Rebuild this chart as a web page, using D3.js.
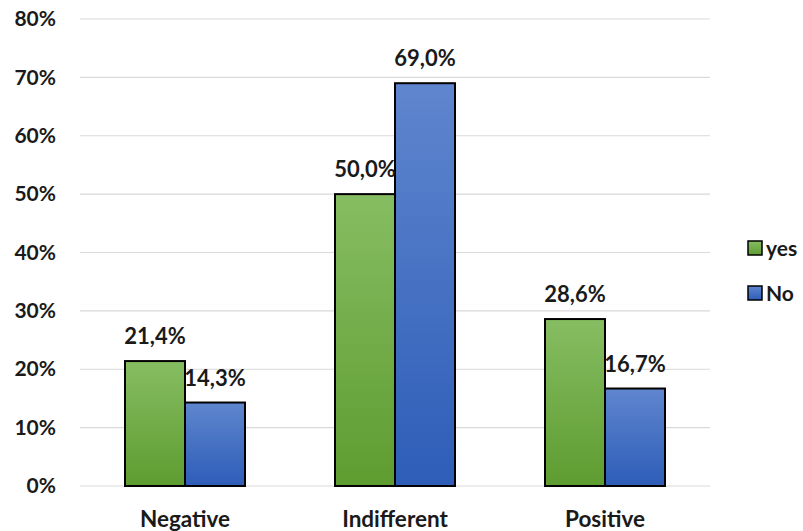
<!DOCTYPE html>
<html>
<head>
<meta charset="utf-8">
<script src="https://cdn.jsdelivr.net/npm/d3@7"></script>
<style>
  html, body { margin: 0; padding: 0; background: #fff; }
  svg { display: block; font-family: Lato, "Open Sans", sans-serif; font-weight: 700; }
</style>
</head>
<body>
<svg id="chart" width="803" height="531"></svg>
<script>
// Share of responses per attitude, split by group
const categories = ["Negative", "Indifferent", "Positive"];
const seriesNames = ["yes", "No"];
const yesValues = [21.4, 50.0, 28.6];
const noValues = [14.3, 69.0, 16.7];
const yTicks = [0, 10, 20, 30, 40, 50, 60, 70, 80];

const svg = d3.select("#chart");
const margin = { left: 80, right: 93, top: 19, bottom: 45 };
const W = 803, H = 531;
const FS = 21;

const x = d3.scaleBand().domain(categories).range([margin.left, W - margin.right]).paddingInner(0).paddingOuter(0);
const y = d3.scaleLinear().domain([0, 80]).range([H - margin.bottom, margin.top]);

const defs = svg.append("defs");
const grads = {
  yes: ["#86bd62", "#5e9c30"],
  No: ["#5f86ce", "#2e5db8"]
};
for (const k of seriesNames) {
  const g = defs.append("linearGradient").attr("id", "g-" + k).attr("x1", 0).attr("y1", 0).attr("x2", 0).attr("y2", 1);
  g.append("stop").attr("offset", "0%").attr("stop-color", grads[k][0]);
  g.append("stop").attr("offset", "100%").attr("stop-color", grads[k][1]);
}

// gridlines
svg.append("g").selectAll("line").data(yTicks).join("line")
  .attr("x1", margin.left).attr("x2", W - margin.right)
  .attr("y1", d => y(d)).attr("y2", d => y(d))
  .attr("stroke", "#d9d9d9").attr("stroke-width", 1.2);

// y axis labels
const yAxis = d3.axisLeft(y).tickValues(yTicks).tickFormat(d => d + "%").tickSize(0).tickPadding(24);
const ya = svg.append("g").attr("transform", `translate(${margin.left},0)`).call(yAxis);
ya.select(".domain").remove();
ya.selectAll("text").attr("font-size", FS).attr("font-family", "Lato, sans-serif").attr("font-weight", 700).attr("fill", "#1a1a1a");

// x axis labels
const xAxis = d3.axisBottom(x).tickSize(0).tickPadding(25);
const xa = svg.append("g").attr("transform", `translate(0,${y(0)})`).call(xAxis);
xa.select(".domain").remove();
xa.selectAll("text").attr("font-size", 22.5).attr("font-family", "Lato, sans-serif").attr("font-weight", 700).attr("fill", "#1a1a1a");

const rows = categories.map((c, i) => ({ cat: c, yes: yesValues[i], No: noValues[i] }));
const barW = 60;
const offs = { yes: -barW, No: 0 };
const fmt = v => v.toFixed(1).replace(".", ",") + "%";

const bars = svg.append("g");
for (const k of seriesNames) {
  bars.selectAll("rect." + k).data(rows).join("rect")
    .attr("class", k)
    .attr("x", d => x(d.cat) + x.bandwidth() / 2 + offs[k])
    .attr("y", d => y(d[k]))
    .attr("width", barW)
    .attr("height", d => y(0) - y(d[k]))
    .attr("fill", `url(#g-${k})`)
    .attr("stroke", "#000").attr("stroke-width", 2);
}

// value labels
for (const k of seriesNames) {
  svg.append("g").selectAll("text").data(rows).join("text")
    .attr("x", d => x(d.cat) + x.bandwidth() / 2 + offs[k] + barW / 2)
    .attr("y", d => y(d[k]) - 17)
    .attr("text-anchor", "middle")
    .attr("font-size", 22).attr("fill", "#1a1a1a")
    .text(d => fmt(d[k]));
}

// legend
const lg = svg.append("g").attr("transform", "translate(748,248)");
seriesNames.forEach((k, i) => {
  const g = lg.append("g").attr("transform", `translate(0,${i * 45})`);
  g.append("rect").attr("x", 0).attr("y", -7).attr("width", 14).attr("height", 14)
    .attr("fill", `url(#g-${k})`).attr("stroke", "#000").attr("stroke-width", 1.5);
  g.append("text").attr("x", 18).attr("y", 7.5).attr("font-size", FS).attr("fill", "#1a1a1a").text(k);
});
</script>
</body>
</html>
